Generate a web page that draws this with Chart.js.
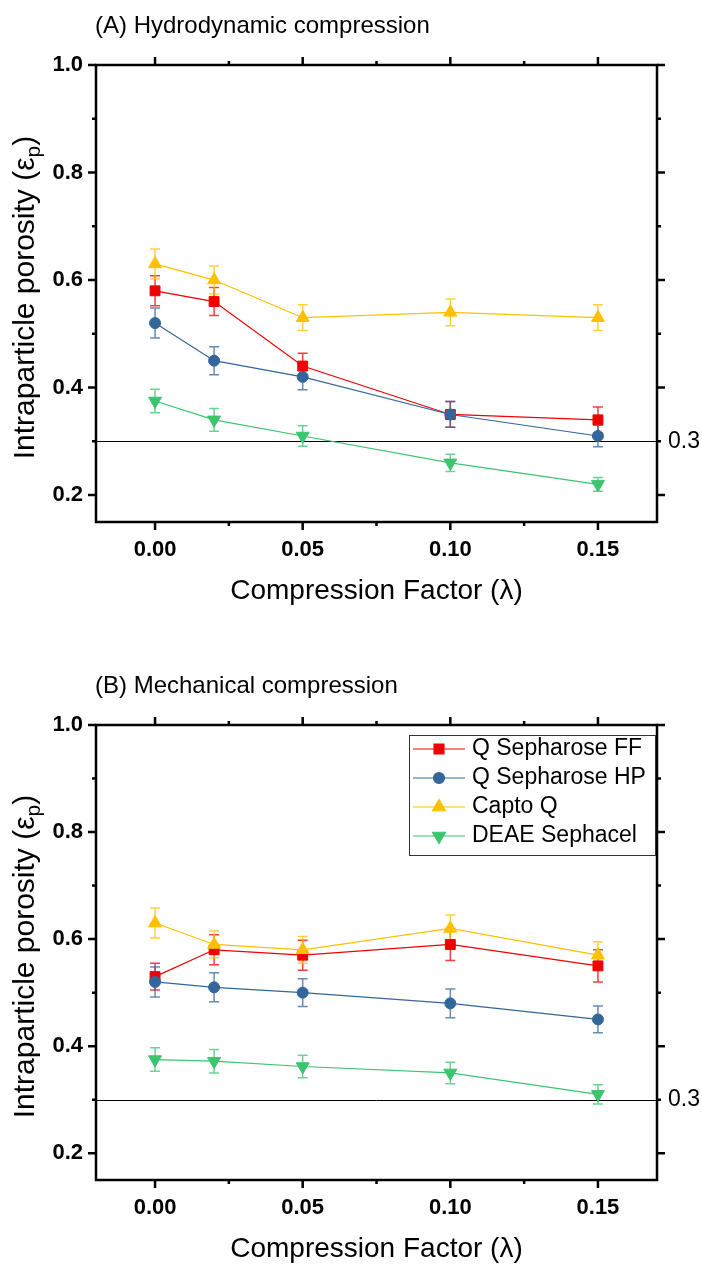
<!DOCTYPE html>
<html>
<head>
<meta charset="utf-8">
<script src="https://cdn.jsdelivr.net/npm/chart.js@4.4.0/dist/chart.umd.min.js"></script>
<style>
  html, body { margin: 0; padding: 0; background: #fff; }
  .panel { position: absolute; left: 0; width: 702px; height: 632px; }
</style>
</head>
<body>
<div class="panel" style="top:0"><canvas id="chartA" width="702" height="632"></canvas></div>
<div class="panel" style="top:632px"><canvas id="chartB" width="702" height="632"></canvas></div>
<script>
var lambda = [0, 0.02, 0.05, 0.10, 0.15];
var names = ["Q Sepharose FF", "Q Sepharose HP", "Capto Q", "DEAE Sephacel"];

// (A) hydrodynamic compression
var ffA = [0.58, 0.56, 0.44, 0.35, 0.34];
var ffAErr = [0.028, 0.026, 0.024, 0.024, 0.024];
var hpA = [0.52, 0.45, 0.42, 0.35, 0.31];
var hpAErr = [0.028, 0.026, 0.024, 0.024, 0.02];
var captoA = [0.63, 0.60, 0.53, 0.54, 0.53];
var captoAErr = [0.028, 0.026, 0.024, 0.025, 0.024];
var deaeA = [0.375, 0.34, 0.31, 0.26, 0.22];
var deaeAErr = [0.022, 0.021, 0.019, 0.016, 0.013];

// (B) mechanical compression
var ffB = [0.53, 0.58, 0.57, 0.59, 0.55];
var ffBErr = [0.025, 0.028, 0.028, 0.03, 0.03];
var hpB = [0.52, 0.51, 0.50, 0.48, 0.45];
var hpBErr = [0.028, 0.027, 0.026, 0.027, 0.025];
var captoB = [0.63, 0.59, 0.58, 0.62, 0.57];
var captoBErr = [0.028, 0.025, 0.025, 0.025, 0.025];
var deaeB = [0.375, 0.372, 0.362, 0.35, 0.31];
var deaeBErr = [0.022, 0.022, 0.021, 0.02, 0.018];

var xTicks = [0, 0.05, 0.10, 0.15];
var xMinor = [0.025, 0.075, 0.125];
var yTicks = [0.2, 0.4, 0.6, 0.8, 1.0];
var yMinor = [0.3, 0.5, 0.7, 0.9];
var refLevel = 0.3;

var FONT = '"Liberation Sans", Arial, sans-serif';
var looks = [
  { color: "#f00000", style: "rect", radius: 7, rotation: 0 },
  { color: "#336699", style: "circle", radius: 5.5, rotation: 0 },
  { color: "#ffc000", style: "triangle", radius: 7.5, rotation: 0 },
  { color: "#3cc46e", style: "triangle", radius: 7.5, rotation: 180 }
];

function makeSets(series, errs) {
  return series.map(function (vals, k) {
    var lk = looks[k];
    return {
      label: names[k],
      data: lambda.map(function (x, i) { return { x: x, y: vals[i] }; }),
      errors: errs[k],
      showLine: true,
      borderColor: lk.color,
      backgroundColor: lk.color,
      borderWidth: 1.2,
      pointStyle: lk.style,
      pointRadius: lk.radius,
      pointRotation: lk.rotation,
      pointBorderWidth: 1,
      order: 4 - k
    };
  });
}

// reference line and error bars, under the markers
var underlay = {
  id: "underlay",
  beforeDatasetsDraw: function (chart) {
    var ctx = chart.ctx, a = chart.chartArea;
    var xs = chart.scales.x, ys = chart.scales.y;
    ctx.save();
    var yr = Math.round(ys.getPixelForValue(refLevel)) + 0.5;
    ctx.strokeStyle = "#000";
    ctx.lineWidth = 1;
    ctx.beginPath();
    ctx.moveTo(a.left, yr);
    ctx.lineTo(a.right, yr);
    ctx.stroke();
    chart.data.datasets.forEach(function (ds) {
      ctx.strokeStyle = ds.borderColor;
      ctx.globalAlpha = 0.75;
      ctx.lineWidth = 1.5;
      ds.data.forEach(function (p, i) {
        var e = ds.errors[i];
        var px = xs.getPixelForValue(p.x);
        var top = ys.getPixelForValue(p.y + e);
        var bot = ys.getPixelForValue(p.y - e);
        ctx.beginPath();
        ctx.moveTo(px, top); ctx.lineTo(px, bot);
        ctx.moveTo(px - 5, top); ctx.lineTo(px + 5, top);
        ctx.moveTo(px - 5, bot); ctx.lineTo(px + 5, bot);
        ctx.stroke();
      });
    });
    ctx.restore();
  }
};

// box, ticks on all four sides, titles, legend
var frame = {
  id: "frame",
  afterDraw: function (chart, args, opts) {
    var ctx = chart.ctx, a = chart.chartArea;
    var xs = chart.scales.x, ys = chart.scales.y;
    ctx.save();
    ctx.strokeStyle = "#000";
    ctx.lineWidth = 2.5;
    ctx.strokeRect(a.left, a.top, a.right - a.left, a.bottom - a.top);

    function xt(v, len) {
      var px = xs.getPixelForValue(v);
      ctx.beginPath();
      ctx.moveTo(px, a.bottom); ctx.lineTo(px, a.bottom + len);
      ctx.moveTo(px, a.top); ctx.lineTo(px, a.top - len);
      ctx.stroke();
    }
    function yt(v, len) {
      var py = ys.getPixelForValue(v);
      ctx.beginPath();
      ctx.moveTo(a.left, py); ctx.lineTo(a.left - len, py);
      ctx.moveTo(a.right, py); ctx.lineTo(a.right + len, py);
      ctx.stroke();
    }
    xTicks.forEach(function (v) { xt(v, 8); });
    xMinor.forEach(function (v) { xt(v, 4); });
    yTicks.forEach(function (v) { yt(v, 8); });
    yMinor.forEach(function (v) { yt(v, 4); });

    ctx.fillStyle = "#000";
    ctx.textBaseline = "middle";

    // label of the reference line
    ctx.font = "23px " + FONT;
    ctx.textAlign = "left";
    ctx.fillText(String(refLevel), a.right + 11, ys.getPixelForValue(refLevel));

    // panel title
    ctx.font = "24px " + FONT;
    ctx.fillText(opts.title, a.left - 1, a.top - 39);

    // x title
    ctx.font = "28px " + FONT;
    ctx.textAlign = "center";
    ctx.fillText("Compression Factor (\u03bb)", (a.left + a.right) / 2, a.bottom + 69);

    // y title with subscript
    ctx.save();
    ctx.translate(26, (a.top + a.bottom) / 2 + 4);
    ctx.rotate(-Math.PI / 2);
    ctx.textAlign = "left";
    var main = "Intraparticle porosity (\u03b5", sub = "p", close = ")";
    ctx.font = "30px " + FONT;
    var w1 = ctx.measureText(main).width, w3 = ctx.measureText(close).width;
    ctx.font = "21px " + FONT;
    var w2 = ctx.measureText(sub).width;
    var x0 = -(w1 + w2 + w3) / 2;
    ctx.font = "30px " + FONT;
    ctx.fillText(main, x0, 0);
    ctx.fillText(close, x0 + w1 + w2, 0);
    ctx.font = "21px " + FONT;
    ctx.fillText(sub, x0 + w1, 8);
    ctx.restore();

    if (opts.legend) {
      var lx = a.right - 248, ly = a.top + 10, lw = 246, lh = 120;
      ctx.fillStyle = "#fff";
      ctx.fillRect(lx, ly, lw, lh);
      ctx.strokeStyle = "#333";
      ctx.lineWidth = 1;
      ctx.strokeRect(lx + 0.5, ly + 0.5, lw, lh);
      ctx.font = "23px " + FONT;
      ctx.textAlign = "left";
      chart.data.datasets.forEach(function (ds, k) {
        var lk = looks[k];
        var ry = ly + 14 + k * 29;
        ctx.strokeStyle = lk.color;
        ctx.lineWidth = 1.2;
        ctx.beginPath();
        ctx.moveTo(lx + 4, ry); ctx.lineTo(lx + 56, ry);
        ctx.stroke();
        ctx.fillStyle = lk.color;
        Chart.helpers.drawPoint(ctx, {
          pointStyle: lk.style, radius: lk.radius, rotation: lk.rotation, borderWidth: 1
        }, lx + 30, ry);
        ctx.fillStyle = "#000";
        ctx.fillText(ds.label, lx + 63, ry);
      });
    }
    ctx.restore();
  }
};

function makeChart(id, sets, title, legend, xAxisH) {
  var tickFont = { family: FONT, size: 22, weight: "bold" };
  return new Chart(document.getElementById(id), {
    type: "scatter",
    data: { datasets: sets },
    plugins: [underlay, frame],
    options: {
      responsive: false,
      devicePixelRatio: 1,
      animation: false,
      events: [],
      layout: { padding: { top: legend ? 93 : 65, right: 45, left: 0, bottom: 0 } },
      plugins: {
        legend: { display: false },
        tooltip: { enabled: false },
        frame: { title: title, legend: legend }
      },
      scales: {
        x: {
          type: "linear", min: -0.02, max: 0.17,
          afterBuildTicks: function (s) { s.ticks = xTicks.map(function (v) { return { value: v }; }); },
          afterFit: function (s) { s.height = xAxisH; },
          ticks: { callback: function (v) { return v.toFixed(2); }, font: tickFont, color: "#000", padding: 15, maxRotation: 0, autoSkip: false },
          grid: { display: false, drawTicks: false },
          border: { display: false }
        },
        y: {
          type: "linear", min: 0.15, max: 1.0,
          afterBuildTicks: function (s) { s.ticks = yTicks.map(function (v) { return { value: v }; }); },
          afterFit: function (s) { s.width = 96; },
          ticks: { callback: function (v) { return v.toFixed(1); }, font: tickFont, color: "#000", padding: 13, autoSkip: false },
          grid: { display: false, drawTicks: false },
          border: { display: false }
        }
      }
    }
  });
}

makeChart("chartA",
  makeSets([ffA, hpA, captoA, deaeA], [ffAErr, hpAErr, captoAErr, deaeAErr]),
  "(A) Hydrodynamic compression", false, 110);
makeChart("chartB",
  makeSets([ffB, hpB, captoB, deaeB], [ffBErr, hpBErr, captoBErr, deaeBErr]),
  "(B) Mechanical compression", true, 84);
</script>
</body>
</html>
